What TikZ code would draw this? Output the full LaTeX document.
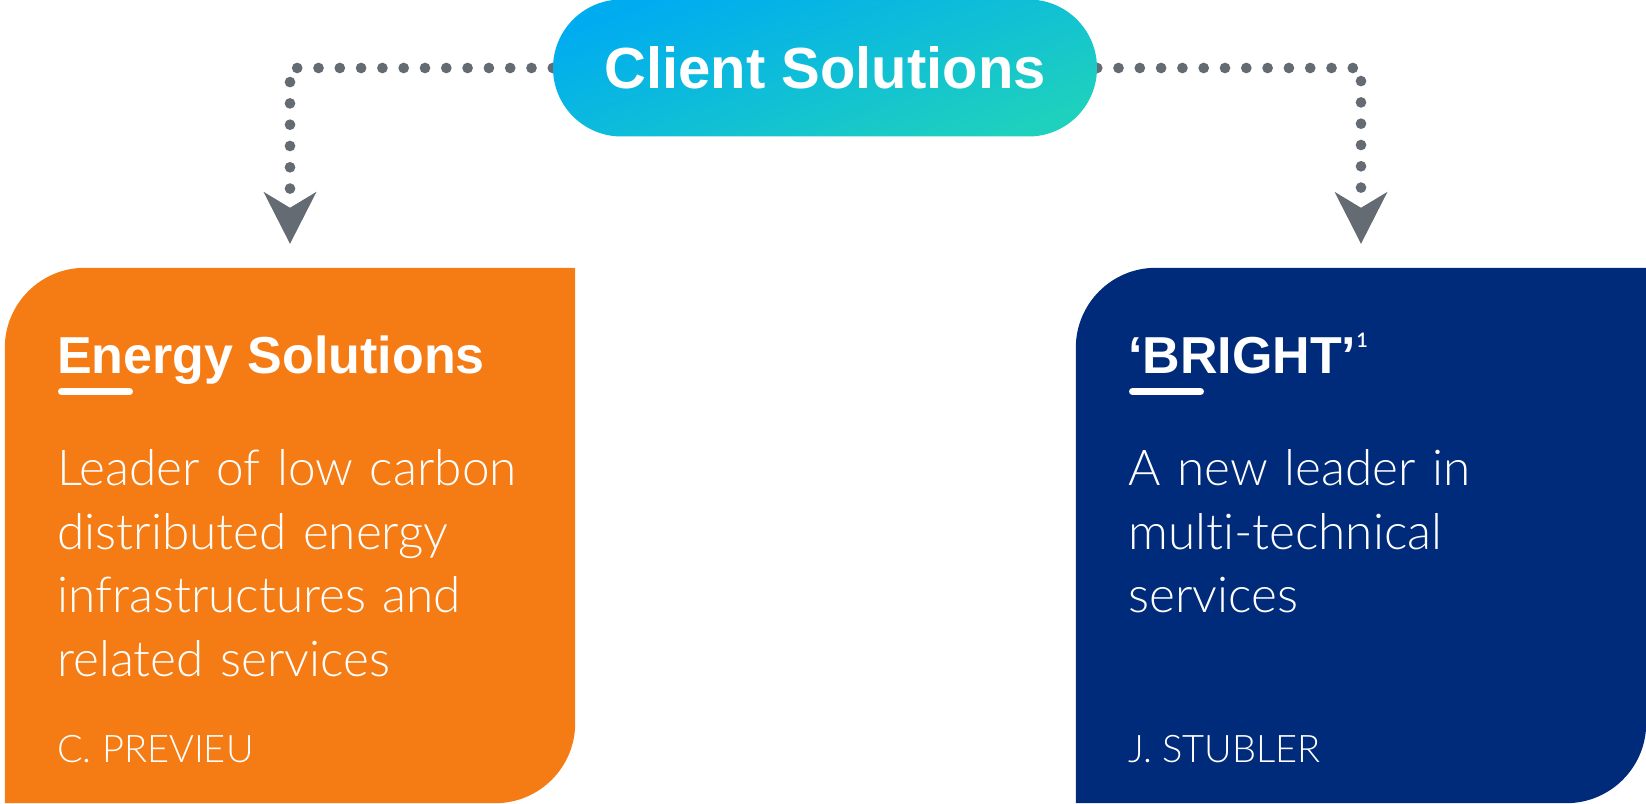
\documentclass[tikz,border=0pt]{standalone}
\usepackage{fontspec}
\setmainfont{Liberation Sans}
\newfontfamily\lightfont{Lato Light}[Ligatures=NoCommon]
\usepackage{tikz}
\usetikzlibrary{arrows.meta,backgrounds}

\definecolor{clientblue}{RGB}{0,172,240}
\definecolor{clientteal}{RGB}{30,208,190}
\definecolor{energyorange}{RGB}{245,124,20}
\definecolor{brightblue}{RGB}{0,42,122}
\definecolor{linkgray}{RGB}{100,107,115}

\begin{document}
\begin{tikzpicture}[x=1pt,y=1pt,
  pill/.style={rectangle,rounded corners=68.5,minimum width=544,minimum height=137,inner sep=0pt,
    top color=clientblue,bottom color=clientteal,shading angle=20,text=white,
    font=\bfseries\fontsize{58}{58}\selectfont},
  boxarea/.style={rectangle,minimum width=570,minimum height=535,inner sep=0pt},
  heading/.style={text=white,inner sep=0pt,anchor=base west,font=\bfseries\fontsize{52}{52}\selectfont},
  bodytext/.style={text=white,inner sep=0pt,anchor=base west,text width=540,align=left,
    font=\lightfont\fontsize{49.5}{63.5}\selectfont},
  leadname/.style={text=white,inner sep=0pt,anchor=base west,font=\lightfont\fontsize{38}{38}\selectfont},
  titlebar/.style={white,line width=7,line cap=round},
  link/.style={linkgray,line width=10.7,line cap=round,dash pattern=on 0pt off 21.3pt,shorten >=24,
    -{Stealth[length=52,width=53,inset=16,line width=0pt]}}]
\useasboundingbox (0,0) rectangle (1646,803);

\node[pill] (client) at (825,735) {Client Solutions};
\node[boxarea] (energy) at (290,267.5) {};
\node[boxarea] (bright) at (1361,267.5) {};

\fill[energyorange] (energy.south west) -- ([yshift=-80]energy.north west)
  arc[start angle=180,end angle=90,radius=80] -- (energy.north east)
  -- ([yshift=80]energy.south east) arc[start angle=0,end angle=-90,radius=80] -- cycle;
\fill[brightblue] (bright.south west) -- ([yshift=-80]bright.north west)
  arc[start angle=180,end angle=90,radius=80] -- (bright.north east)
  -- ([yshift=80]bright.south east) arc[start angle=0,end angle=-90,radius=80] -- cycle;

\begin{scope}[on background layer]
\draw[link] (client.west) -| (energy.north);
\draw[link] (client.east) -| (bright.north);
\end{scope}

\node[heading] (energytitle) at (57,429) {Energy Solutions};
\draw[titlebar] ([xshift=4.5,yshift=-17.5]energytitle.base west) -- ++(68,0);
\node[bodytext] (energytext) at (57,317) {Leader of low carbon\\distributed energy\\infrastructures and\\related services};
\node[leadname] (energylead) at (57,40) {C. PREVIEU};

\node[heading] (brighttitle) at (1128,429) {‘BRIGHT’{\lightfont\fontsize{20}{20}\selectfont\raisebox{26pt}{1}}};
\draw[titlebar] ([xshift=4.5,yshift=-17.5]brighttitle.base west) -- ++(68,0);
\node[bodytext] (brighttext) at (1128,317) {A new leader in\\multi-technical\\services};
\node[leadname] (brightlead) at (1128,40) {J. STUBLER};
\end{tikzpicture}
\end{document}
